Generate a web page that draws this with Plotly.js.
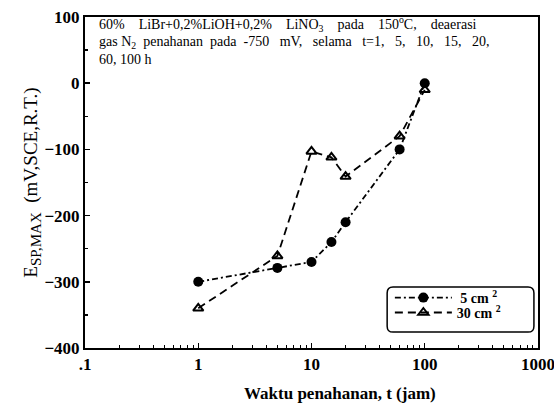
<!DOCTYPE html>
<html>
<head>
<meta charset="utf-8">
<script src="https://cdn.plot.ly/plotly-3.0.1.min.js"></script>
<style>html,body{margin:0;padding:0;background:#fff;}#chart{width:554px;height:405px;}</style>
</head>
<body>
<div id="chart"></div>
<script>
const time = [1, 5, 10, 15, 20, 60, 100];
const e5cm = [-300, -279, -270, -240, -210, -100, 0];
const e30cm = [-340, -261, -103, -112, -141, -80, -10];
const xTickVals = [0.1, 1, 10, 100, 1000];
const xTickText = ['.1', '1', '10', '100', '1000'];
const yTickVals = [100, 0, -100, -200, -300, -400];

const serif = 'Liberation Serif, Times New Roman, serif';
const S = '&nbsp;';

const traces = [
  {
    x: time, y: e5cm, type: 'scatter', mode: 'lines+markers',
    name: S + '5 cm <sup>2</sup>', legend: 'legend',
    line: {color: '#000', width: 1.8, dash: '6px,3px,2px,3px'},
    marker: {symbol: 'circle', size: 10, color: '#000'}
  },
  {
    x: time, y: e30cm, type: 'scatter', mode: 'lines+markers',
    name: '30 cm <sup>2</sup>', legend: 'legend2',
    line: {color: '#000', width: 1.8, dash: '8px,5px'},
    marker: {symbol: 'triangle-up-open', size: 9, color: '#000', line: {width: 2, color: '#000'}}
  }
];

const legendBase = {
  xanchor: 'left', yanchor: 'middle',
  bgcolor: 'rgba(0,0,0,0)', borderwidth: 0,
  font: {family: serif, size: 14, color: '#000', weight: 'bold'},
  itemwidth: 57
};

const layout = {
  width: 554, height: 405,
  margin: {l: 85, r: 16, t: 17, b: 57},
  paper_bgcolor: '#fff', plot_bgcolor: '#fff',
  showlegend: true,
  font: {family: serif, color: '#000'},
  xaxis: {
    type: 'log', range: [-1, 3.0001],
    tickvals: xTickVals, ticktext: xTickText, ticklabeloverflow: 'allow',
    ticks: 'inside', ticklen: 5, tickwidth: 1.5, tickcolor: '#000',
    minor: {ticks: 'inside', ticklen: 3, tickcolor: '#000', tickwidth: 1, dtick: 'D1'},
    showline: true, linecolor: '#000', linewidth: 2, mirror: true,
    showgrid: false, zeroline: false,
    tickfont: {family: serif, size: 17, color: '#000', weight: 'bold'}
  },
  yaxis: {
    range: [-400, 100],
    tickvals: yTickVals,
    ticks: 'inside', ticklen: 5, tickwidth: 1.5, tickcolor: '#000',
    minor: {ticks: 'inside', ticklen: 3, tickcolor: '#000', dtick: 50},
    showline: true, linecolor: '#000', linewidth: 2, mirror: true,
    showgrid: false, zeroline: false,
    tickfont: {family: serif, size: 17, color: '#000', weight: 'bold'},
    title: {text: 'E<sub><span style="font-size:15px;fill:#000">SP,MAX</span></sub>  (mV,SCE,R.T.)', font: {family: serif, size: 19, color: '#000'}, standoff: 1}
  },
  legend: Object.assign({}, legendBase, {x: 0.673, y: 0.151}),
  legend2: Object.assign({}, legendBase, {x: 0.673, y: 0.106}),
  shapes: [{
    type: 'path', xref: 'paper', yref: 'paper',
    path: 'M 0.68,0.048 L 0.978,0.048 Q 0.991,0.048 0.991,0.066 L 0.991,0.166 Q 0.991,0.184 0.978,0.184 L 0.68,0.184 Q 0.667,0.184 0.667,0.166 L 0.667,0.066 Q 0.667,0.048 0.68,0.048 Z',
    line: {color: '#000', width: 1.5}
  }],
  annotations: [
    {
      xref: 'paper', yref: 'paper', x: 0.026, y: 0.979, xanchor: 'left', yanchor: 'middle',
      align: 'left', showarrow: false,
      font: {family: serif, size: 14, color: '#000'},
      text: '60%' + S + S + S + ' LiBr+0,2%LiOH+0,2%' + S + S + S + ' LiNO<sub>3</sub>' + S + S + S + ' pada' + S + S + S + ' 150<sup>o</sup>C,' + S + S + S + ' deaerasi'
    },
    {
      xref: 'paper', yref: 'paper', x: 0.026, y: 0.924, xanchor: 'left', yanchor: 'middle',
      align: 'left', showarrow: false,
      font: {family: serif, size: 14, color: '#000'},
      text: 'gas N<sub>2</sub>' + S + ' penahanan' + S + ' pada' + S + ' -750' + S + S + ' mV,' + S + S + ' selama' + S + S + ' t=1,' + S + S + ' 5,' + S + S + ' 10,' + S + S + ' 15,' + S + S + ' 20,'
    },
    {
      xref: 'paper', yref: 'paper', x: 0.026, y: 0.873, xanchor: 'left', yanchor: 'middle',
      align: 'left', showarrow: false,
      font: {family: serif, size: 14, color: '#000'},
      text: '60, 100 h'
    },
    {
      xref: 'paper', yref: 'paper', x: 0.563, y: -0.136, xanchor: 'center', yanchor: 'middle',
      showarrow: false,
      font: {family: serif, size: 17, color: '#000', weight: 'bold'},
      text: 'Waktu penahanan, t (jam)'
    }
  ]
};

Plotly.newPlot('chart', traces, layout, {displayModeBar: false, staticPlot: true});
</script>
</body>
</html>
